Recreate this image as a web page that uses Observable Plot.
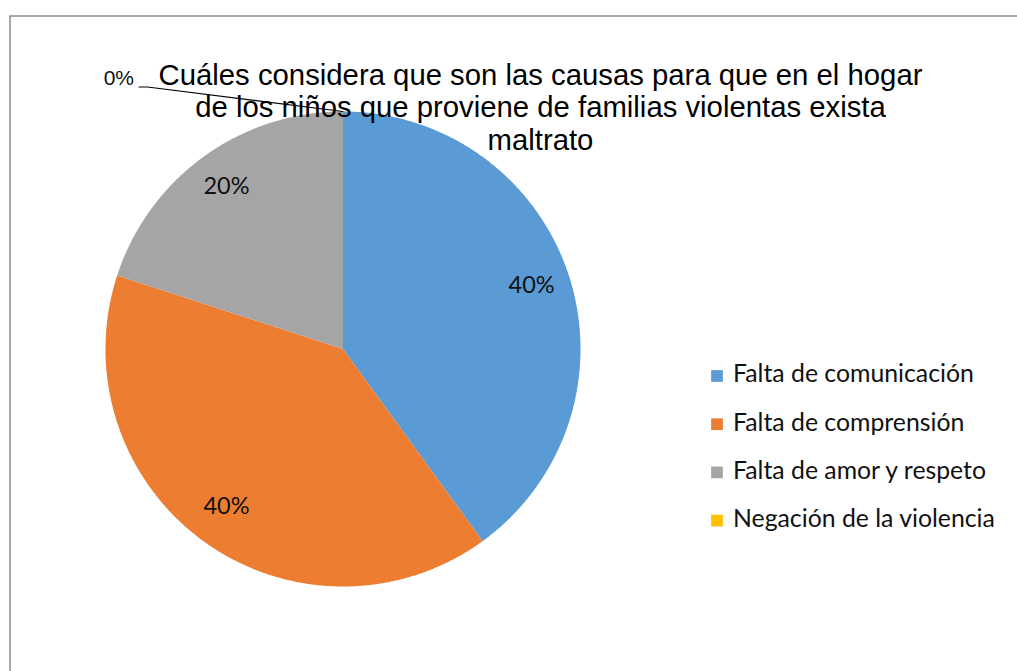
<!DOCTYPE html>
<html>
<head>
<meta charset="utf-8">
<script src="https://cdn.jsdelivr.net/npm/d3@7"></script>
<script src="https://cdn.jsdelivr.net/npm/@observablehq/plot@0.6"></script>
<style>
  html, body { margin: 0; padding: 0; background: #fff; }
</style>
</head>
<body>
<div id="chart"></div>
<script>
// ---- data ----
const categories = ["Falta de comunicación", "Falta de comprensión", "Falta de amor y respeto", "Negación de la violencia"];
const percentages = [40, 40, 20, 0];
const colors = ["#5B9BD5", "#ED7D31", "#A5A5A5", "#FFC000"];
const titleLines = [
  "Cuáles considera que son las causas para que en el hogar",
  "de los niños que proviene de familias violentas exista",
  "maltrato"
];

// ---- layout constants (pixels) ----
const W = 1017, H = 671;
const cx = 342.5, cy = 348.5, R = 237.5;
const px2x = p => (p - cx) / R;
const py2y = p => (cy - p) / R;

const rows = categories.map((c, i) => ({cat: c, value: percentages[i], i}));
const arcs = d3.pie().sort(null).value(d => d.value)(rows);

// slice polygons (unit circle, clockwise from top)
const polys = [];
for (const a of arcs) {
  if (a.data.value <= 0) continue;
  const n = Math.max(2, Math.ceil((a.endAngle - a.startAngle) / (Math.PI / 360)));
  polys.push({cat: a.data.cat, x: 0, y: 0});
  for (let k = 0; k <= n; k++) {
    const t = a.startAngle + (a.endAngle - a.startAngle) * k / n;
    polys.push({cat: a.data.cat, x: Math.sin(t), y: Math.cos(t)});
  }
}

// inside labels
const inside = arcs.filter(a => a.data.value > 0).map(a => {
  const m = (a.startAngle + a.endAngle) / 2;
  return {x: 0.835 * Math.sin(m), y: 0.835 * Math.cos(m), text: a.data.value + "%"};
});

// zero-value slice: outside label with leader line
const zeros = arcs.filter(a => a.data.value === 0).map(a => ({
  x: Math.sin(a.startAngle), y: Math.cos(a.startAngle), text: a.data.value + "%"
}));
const leaders = [];
zeros.forEach((z, j) => {
  const ax = cx + z.x * R, ay = cy - z.y * R;
  leaders.push({g: j, x: z.x, y: z.y});
  leaders.push({g: j, x: px2x(ax - 195.5), y: py2y(ay - 24.5)});
  leaders.push({g: j, x: px2x(ax - 204), y: py2y(ay - 24.5)});
});

// legend rows
const legendRowY = i => py2y(374 + i * 48.2);

const chart = Plot.plot({
  width: W,
  height: H,
  margin: 0,
  style: {background: "#fff", fontFamily: "Lato, sans-serif"},
  x: {domain: [-1, 1], range: [cx - R, cx + R], axis: null},
  y: {domain: [-1, 1], range: [cy + R, cy - R], axis: null},
  color: {domain: categories, range: colors},
  marks: [
    Plot.frame({stroke: "#8c8c8c", strokeWidth: 1.5, insetLeft: 9.5, insetTop: 15.5, insetRight: -10, insetBottom: -10}),
    Plot.line(polys, {x: "x", y: "y", z: "cat", fill: "cat", stroke: "none", curve: "linear-closed"}),
    Plot.text(inside, {x: "x", y: "y", text: "text", dy: -2.5, fontSize: 23.5, fontFamily: "Lato, sans-serif", fill: "#111"}),
    Plot.text([titleLines.join("\n")], {
      frameAnchor: "top", dx: 31.5, dy: 61, lineAnchor: "top", lineHeight: 1.11,
      fontSize: 29.3, fontFamily: "'Liberation Sans', Arial, sans-serif", fill: "#000"
    }),
    Plot.line(leaders, {x: "x", y: "y", z: "g", stroke: "#000", strokeWidth: 1.1}),
    Plot.text(zeros, {x: "x", y: "y", text: "text", dx: -209, dy: -33.5, textAnchor: "end",
      fontSize: 21, fontFamily: "'Liberation Sans', Arial, sans-serif", fill: "#111"}),
    Plot.dot(categories, {x: () => px2x(716.5), y: (d, i) => legendRowY(i) - 1.5 / R, symbol: "square", r: 6.6, fill: d => d, stroke: "none"}),
    Plot.text(categories, {x: () => px2x(732.5), y: (d, i) => legendRowY(i), text: d => d, textAnchor: "start",
      fontSize: 24.8, fontFamily: "Lato, sans-serif", fill: "#111"})
  ]
});
document.getElementById("chart").appendChild(chart);
</script>
</body>
</html>
